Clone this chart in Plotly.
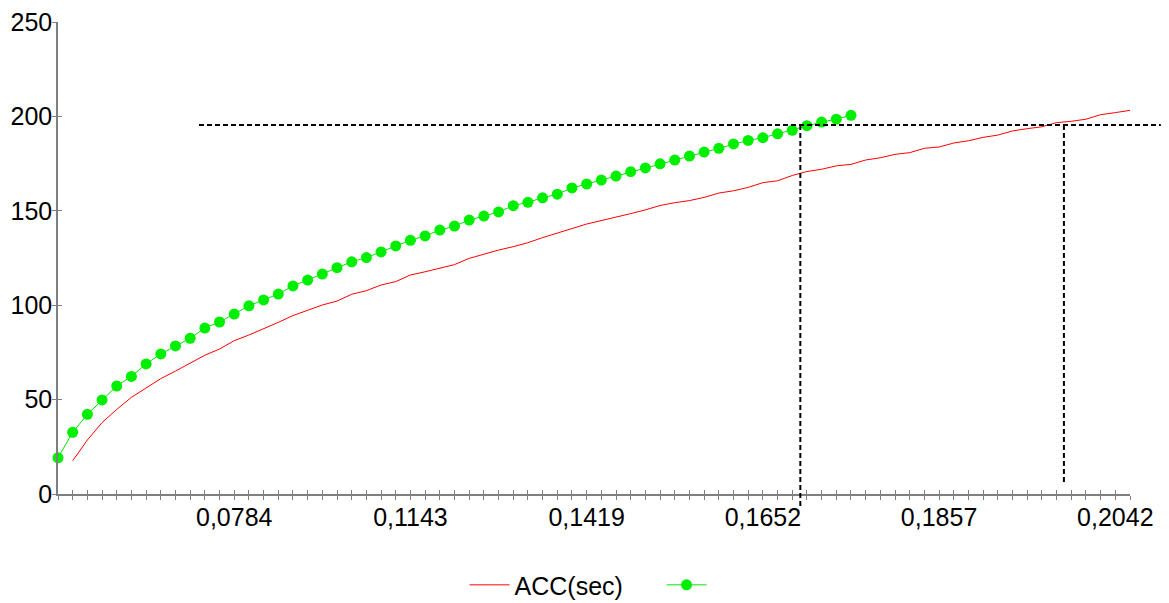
import plotly.graph_objects as go

# Category positions on the x axis (one per sample) and their visible labels
n_categories = 74
label_positions = [12, 24, 36, 48, 60, 72]
label_texts = ["0,0784", "0,1143", "0,1419", "0,1652", "0,1857", "0,2042"]

# ACC(sec) series: starts at the second category
acc_start = 1
acc_values = [
    17.6, 28.6, 37.8, 44.8, 51.2, 56.3, 61.1, 65.1, 69.2, 73.5,
    76.8, 81.2, 84.2, 87.4, 90.9, 94.5, 97.5, 100.1, 102.2, 105.8,
    107.7, 110.7, 112.5, 116.0, 117.7, 119.5, 121.5, 124.8, 127.1, 129.2,
    131.0, 133.1, 135.8, 138.4, 140.6, 143.0, 144.8, 146.3, 148.5, 150.5,
    152.8, 154.3, 155.4, 157.1, 159.4, 160.6, 162.4, 164.9, 165.9, 168.7,
    170.8, 172.0, 173.8, 174.6, 176.9, 178.1, 179.9, 180.8, 183.1, 183.8,
    185.9, 187.1, 188.9, 190.1, 192.3, 193.5, 194.5, 196.7, 197.4, 198.5,
    200.9, 202.0, 203.2,
]

# Second (unnamed) series with markers
second_values = [
    19.2, 32.7, 42.2, 49.8, 57.2, 62.3, 68.9, 74.2, 78.4, 82.5,
    87.9, 91.1, 95.3, 99.7, 102.8, 105.9, 110.2, 113.3, 116.5, 119.9,
    123.0, 125.2, 128.2, 131.4, 134.4, 136.7, 139.8, 141.9, 145.1, 147.2,
    149.4, 152.7, 154.5, 156.9, 158.8, 162.1, 164.2, 166.3, 168.4, 170.7,
    172.7, 174.9, 176.9, 179.0, 181.1, 183.1, 185.4, 187.3, 188.7, 190.8,
    192.6, 195.1, 197.0, 198.5, 200.6,
]

# Reference level and the guide lines dropped from it (data coordinates)
guide_level = 195.4
guide_h_from, guide_h_to = 9.6, 75.1
guide_v1_x, guide_v1_bottom = 50.55, -7.4
guide_v2_x, guide_v2_bottom = 68.5, 4.8

y_ticks = [0, 50, 100, 150, 200, 250]
x_range = [0, n_categories - 1]
y_range = [0, 250]

FONT = "Liberation Sans, Arial, sans-serif"
AXIS_GREY = "#7f7f7f"


def px(v):
    return (v - x_range[0]) / (x_range[1] - x_range[0])


def py(v):
    return (v - y_range[0]) / (y_range[1] - y_range[0])


fig = go.Figure()

fig.add_trace(go.Scatter(
    x=list(range(acc_start, acc_start + len(acc_values))),
    y=acc_values,
    mode="lines",
    name="ACC(sec)",
    line=dict(color="#ff0000", width=1),
))

fig.add_trace(go.Scatter(
    x=list(range(len(second_values))),
    y=second_values,
    mode="lines+markers",
    name=" ",
    line=dict(color="#00e600", width=1),
    marker=dict(color="#00ee00", size=11, line=dict(width=0)),
    cliponaxis=False,
))

# Overlay axes carry the inner half of the crossing tick marks
fig.add_trace(go.Scatter(x=[None], y=[None], xaxis="x2", yaxis="y2",
                         showlegend=False, hoverinfo="skip"))

tick_text = [""] * n_categories
for pos, txt in zip(label_positions, label_texts):
    tick_text[pos] = txt

dash = dict(color="black", width=2, dash="5px,3px")
guides = [
    (guide_h_from, guide_level, guide_h_to, guide_level),
    (guide_v1_x, guide_level, guide_v1_x, guide_v1_bottom),
    (guide_v2_x, guide_level, guide_v2_x, guide_v2_bottom),
]
shapes = [
    dict(type="line", xref="paper", yref="paper",
         x0=px(a), y0=py(b), x1=px(c), y1=py(d), line=dash, layer="above")
    for a, b, c, d in guides
]

fig.update_layout(
    width=1169,
    height=603,
    margin=dict(l=58, r=39, t=22, b=109, autoexpand=False),
    paper_bgcolor="white",
    plot_bgcolor="white",
    font=dict(family=FONT, size=25, color="black"),
    showlegend=True,
    legend=dict(orientation="h", x=0.563, xanchor="center", y=-0.193,
                yanchor="middle", font=dict(size=25), itemwidth=40,
                entrywidth=142, bgcolor="rgba(0,0,0,0)"),
    shapes=shapes,
    xaxis=dict(
        range=x_range, showgrid=False, zeroline=False, automargin=False,
        showline=True, linecolor=AXIS_GREY, linewidth=1.5,
        tickmode="array", tickvals=list(range(n_categories)), ticktext=tick_text,
        ticks="outside", ticklen=4, tickwidth=1, tickcolor=AXIS_GREY,
        tickfont=dict(size=25, color="black"), ticklabelstandoff=-4,
    ),
    yaxis=dict(
        range=y_range, showgrid=False, zeroline=False, automargin=False,
        showline=True, linecolor=AXIS_GREY, linewidth=1.5,
        tickmode="array", tickvals=y_ticks,
        ticks="outside", ticklen=4, tickwidth=1, tickcolor=AXIS_GREY,
        tickfont=dict(size=25, color="black"), ticklabelstandoff=-5,
    ),
    xaxis2=dict(
        overlaying="x", anchor="y", range=x_range, showgrid=False, zeroline=False,
        showline=False, tickmode="array", tickvals=list(range(n_categories)),
        ticks="inside", ticklen=4, tickwidth=1, tickcolor=AXIS_GREY,
        showticklabels=False, side="bottom", automargin=False,
    ),
    yaxis2=dict(
        overlaying="y", anchor="x", range=y_range, showgrid=False, zeroline=False,
        showline=False, tickmode="array", tickvals=y_ticks,
        ticks="inside", ticklen=4, tickwidth=1, tickcolor=AXIS_GREY,
        showticklabels=False, side="left", automargin=False,
    ),
)

fig.write_html("out.html")
